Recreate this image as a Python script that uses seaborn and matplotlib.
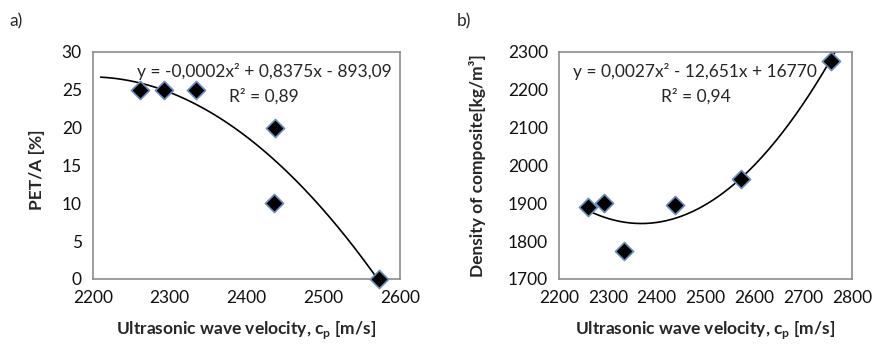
import numpy as np
import pandas as pd
import matplotlib
matplotlib.use("Agg")
import matplotlib.pyplot as plt
import seaborn as sns

# data
velocity_a = [2261, 2293, 2334, 2437, 2436, 2573]
pet_a = [25, 25, 25, 20, 10, 0]

velocity_b = [2260, 2292, 2334, 2437, 2572, 2756]
density_b = [1890, 1900, 1773, 1895, 1964, 2277]

eq_a = "y = -0,0002x\u00b2 + 0,8375x - 893,09"
r2_a = "R\u00b2 = 0,89"
eq_b = "y = 0,0027x\u00b2 - 12,651x + 16770"
r2_b = "R\u00b2 = 0,94"

xlabel = r"Ultrasonic wave velocity, c$_\mathregular{p}$ [m/s]"

sns.set_theme(style="white")
plt.rcParams["font.family"] = ["Lato", "DejaVu Sans"]
plt.rcParams["mathtext.fontset"] = "custom"
plt.rcParams["mathtext.rm"] = "Lato"
fs = 12.5

fig = plt.figure(figsize=(8.75, 3.44), dpi=100)
ax1 = fig.add_axes([0.1063, 0.189, 0.3509, 0.660])
ax2 = fig.add_axes([0.6389, 0.189, 0.3349, 0.660])

dfa = pd.DataFrame({"v": velocity_a, "p": pet_a})
dfb = pd.DataFrame({"v": velocity_b, "d": density_b})

# quadratic trendlines fitted to the points
ca = np.polyfit(velocity_a, pet_a, 2)
xa = np.linspace(2210, 2573, 200)
cb = np.polyfit(velocity_b, density_b, 2)
xb = np.linspace(2260, 2790, 200)

sns.lineplot(x=xa, y=np.polyval(ca, xa), ax=ax1, color="black", lw=1.2)
sns.lineplot(x=xb, y=np.polyval(cb, xb), ax=ax2, color="black", lw=1.2)

mk = dict(marker="D", s=85, color="black", edgecolor="#6a8fc0", linewidth=1.2,
          clip_on=False, zorder=5)
sns.scatterplot(data=dfa, x="v", y="p", ax=ax1, **mk)
sns.scatterplot(data=dfb, x="v", y="d", ax=ax2, **mk)

ax1.set_xlim(2200, 2600)
ax1.set_ylim(0, 30)
ax1.set_xticks(range(2200, 2601, 100))
ax1.set_yticks(range(0, 31, 5))
ax2.set_xlim(2200, 2800)
ax2.set_ylim(1700, 2300)
ax2.set_xticks(range(2200, 2801, 100))
ax2.set_yticks(range(1700, 2301, 100))

for ax in (ax1, ax2):
    for sp in ax.spines.values():
        sp.set_color("#8c8c8c")
        sp.set_linewidth(1.2)
    ax.tick_params(axis="both", direction="out", length=5, width=1.2,
                   color="#8c8c8c", labelsize=fs, labelcolor="#111111", pad=3)
    ax.set_xlabel(xlabel, fontsize=fs, fontweight="bold")
    ax.xaxis.set_label_coords(0.5, -0.178)

ax1.set_ylabel("PET/A [%]", fontsize=fs, fontweight="bold")
ax1.yaxis.set_label_coords(-0.155, 0.48)
ax2.set_ylabel("Density of composite[kg/m\u00b3]", fontsize=fs, fontweight="bold")
ax2.yaxis.set_label_coords(-0.249, 0.5)

ax1.text(0.557, 0.916, eq_a, transform=ax1.transAxes, ha="center", va="center", fontsize=fs)
ax1.text(0.557, 0.806, r2_a, transform=ax1.transAxes, ha="center", va="center", fontsize=fs)
ax2.text(0.4625, 0.916, eq_b, transform=ax2.transAxes, ha="center", va="center", fontsize=fs)
ax2.text(0.466, 0.806, r2_b, transform=ax2.transAxes, ha="center", va="center", fontsize=fs)

fig.text(0.011, 0.939, "a)", fontsize=fs, ha="left", va="center")
fig.text(0.522, 0.939, "b)", fontsize=fs, ha="left", va="center")

fig.savefig("out.png", dpi=100)
